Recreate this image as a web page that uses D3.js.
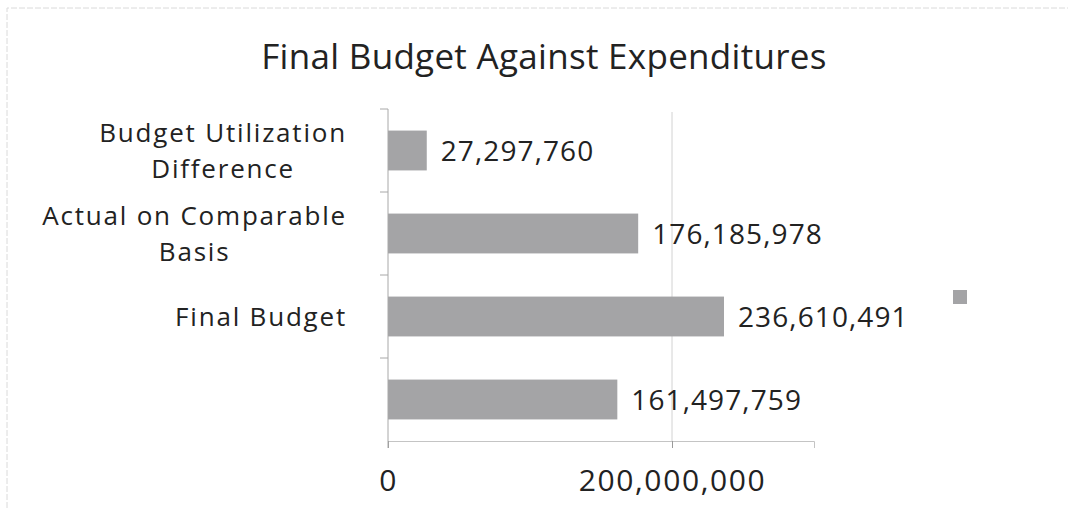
<!DOCTYPE html>
<html>
<head>
<meta charset="utf-8">
<script src="https://cdn.jsdelivr.net/npm/d3@7"></script>
<style>
  body { margin: 0; background: #fff; }
  text { font-family: "Open Sans", "Lato", sans-serif; fill: #222; }
</style>
</head>
<body>
<div id="chart"></div>
<script>

// 1. Data

const categories = ["Budget Utilization Difference", "Actual on Comparable Basis", "Final Budget", ""];
const values = [27297760, 176185978, 236610491, 161497759];
const xTicks = [0, 200000000];
const title = "Final Budget Against Expenditures";

// 2. Dimensions

const dimensions = {
    width: 1068,
    height: 508,
    margin: { top: 109, right: 254, bottom: 67, left: 388 },
};
dimensions.boundedWidth = dimensions.width - dimensions.margin.left - dimensions.margin.right;
dimensions.boundedHeight = dimensions.height - dimensions.margin.top - dimensions.margin.bottom;

// 3. Canvas

const chart = d3.select("#chart")
    .append("svg")
    .attr("width", dimensions.width)
    .attr("height", dimensions.height);

// faint frame from the scanned page
chart.append("path")
    .attr("d", `M7,${dimensions.height} V8 H${dimensions.width}`)
    .attr("fill", "none")
    .attr("stroke", "#dadada")
    .attr("stroke-width", 1)
    .attr("stroke-dasharray", "6 2");

const bounds = chart.append("g")
    .attr("transform", `translate(${dimensions.margin.left}, ${dimensions.margin.top})`);

// 4. Scales

const xScale = d3.scaleLinear()
    .domain([0, 300000000])
    .range([0, dimensions.boundedWidth]);

const yScale = d3.scaleBand()
    .domain(d3.range(categories.length))
    .range([0, dimensions.boundedHeight])
    .paddingInner(0.52)
    .paddingOuter(0.26);

const fmt = d3.format(",");

// 5. Gridlines + bars

bounds.selectAll("line.grid")
    .data(xTicks.filter(d => d > 0))
    .join("line")
    .attr("class", "grid")
    .attr("x1", d => xScale(d))
    .attr("x2", d => xScale(d))
    .attr("y1", 3)
    .attr("y2", dimensions.boundedHeight)
    .attr("stroke", "#d2d2d2")
    .attr("stroke-width", 1);

bounds.selectAll("rect.bar")
    .data(values)
    .join("rect")
    .attr("class", "bar")
    .attr("x", 0)
    .attr("y", (d, i) => yScale(i))
    .attr("width", d => xScale(d))
    .attr("height", yScale.bandwidth())
    .attr("fill", "#a4a4a6");

bounds.selectAll("text.value")
    .data(values)
    .join("text")
    .attr("class", "value")
    .attr("x", d => xScale(d) + 14)
    .attr("y", (d, i) => yScale(i) + yScale.bandwidth() / 2)
    .attr("dy", "0.36em")
    .style("font-size", "28px")
    .style("letter-spacing", "1.1px")
    .text(d => fmt(d));

// 6. Axes

const xAxis = bounds.append("g")
    .attr("transform", `translate(0, ${dimensions.boundedHeight})`)
    .call(d3.axisBottom(xScale).tickValues(xTicks).tickFormat(fmt).tickSize(7).tickPadding(22));

xAxis.select(".domain").attr("stroke", "#c4c4c4");
xAxis.selectAll(".tick line").attr("stroke", "#9a9a9a");
xAxis.selectAll(".tick text")
    .style("font-size", "30px")
    .style("letter-spacing", "1.6px")
    .style("font-family", "\"Open Sans\", sans-serif")
    .attr("fill", "#222");

// y axis: line with ticks on the band boundaries
bounds.append("line")
    .attr("x1", 0).attr("x2", 0)
    .attr("y1", 0).attr("y2", dimensions.boundedHeight + 7)
    .attr("stroke", "#a8a8a8");

const boundaries = d3.range(categories.length).map(i => yScale(i) - yScale.step() * yScale.paddingInner() / 2);
bounds.selectAll("line.ytick")
    .data(boundaries)
    .join("line")
    .attr("class", "ytick")
    .attr("x1", -8).attr("x2", 0)
    .attr("y1", d => d).attr("y2", d => d)
    .attr("stroke", "#a8a8a8");

// category labels: wrapped, lines centred in a block that is right-aligned
const labelWidth = 320;
const labelRight = -41;
bounds.selectAll("text.cat")
    .data(categories)
    .join("text")
    .attr("class", "cat")
    .attr("text-anchor", "middle")
    .style("font-size", "26px")
    .style("letter-spacing", "1.8px")
    .each(function(d, i) {
        const el = d3.select(this);
        const words = d.split(" ");
        const lines = [];
        let line = [];
        let maxW = 0;
        words.forEach(w => {
            el.text([...line, w].join(" "));
            if (line.length && this.getComputedTextLength() > labelWidth) {
                lines.push(line.join(" "));
                line = [w];
            } else {
                line.push(w);
            }
        });
        if (line.length) lines.push(line.join(" "));
        lines.forEach(t => {
            el.text(t);
            maxW = Math.max(maxW, this.getComputedTextLength());
        });
        el.text(null);
        const cx = labelRight - maxW / 2;
        const cy = yScale(i) + yScale.bandwidth() / 2;
        const lh = 36;
        lines.forEach((t, k) => {
            el.append("tspan")
                .attr("x", cx)
                .attr("y", cy + (k - (lines.length - 1) / 2) * lh)
                .attr("dy", "0.36em")
                .text(t);
        });
    });

// legend marker (unlabelled series)
chart.append("rect")
    .attr("x", 953)
    .attr("y", 290)
    .attr("width", 14)
    .attr("height", 14)
    .attr("fill", "#a4a4a6");

// title
chart.append("text")
    .attr("x", 544)
    .attr("y", 69)
    .attr("text-anchor", "middle")
    .style("font-size", "35px")
    .style("letter-spacing", "0.3px")
    .text(title);

</script>
</body>
</html>
